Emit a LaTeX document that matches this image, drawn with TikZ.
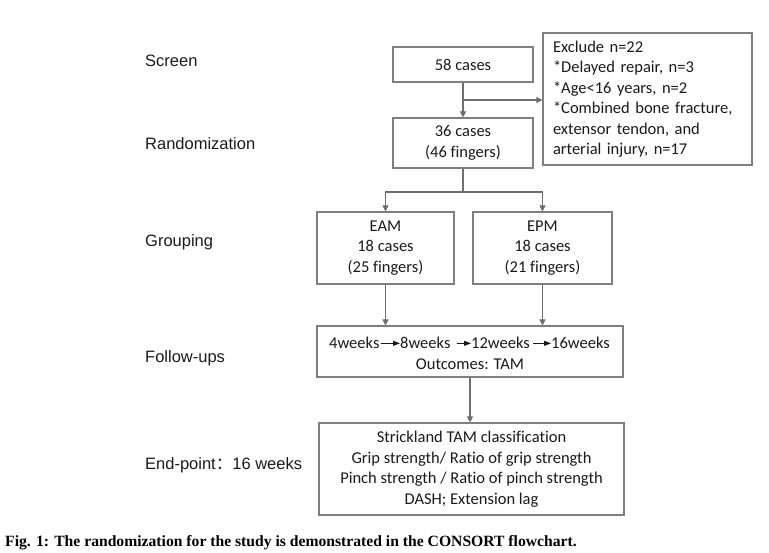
\documentclass[tikz,border=0pt]{standalone}
\usepackage{fontspec}
\setmainfont{Carlito}[Ligatures={NoCommon}]
\newfontfamily\labfont{Liberation Sans}
\newfontfamily\capfont{Liberation Serif}
\newfontfamily\cjk{Noto Sans CJK SC}
\usetikzlibrary{arrows.meta}
\definecolor{boxgray}{HTML}{7F7F7F}
\definecolor{linegray}{HTML}{6E6E6E}
\definecolor{txt}{HTML}{1A1A1A}
\begin{document}
\begin{tikzpicture}[x=1pt,y=-1pt,
  box/.style={draw=boxgray, line width=1.1pt, inner sep=0pt, align=center, font=\fontsize{16.5}{20.5}\selectfont, text=txt},
  lab/.style={anchor=base west, inner sep=0pt, font=\labfont\fontsize{16.5}{20}\selectfont, text=txt},
  arr/.style={draw=linegray, line width=1.1pt, -{Triangle[width=6pt,length=6pt]}},
  ln/.style={draw=linegray, line width=1.1pt},
  wk/.style={inner sep=0pt, anchor=base west, font=\fontsize{16.5}{20}\selectfont, text=txt},
  sarr/.style={draw=txt, line width=1pt, -{Triangle[width=5pt,length=7pt]}}
]
\useasboundingbox (0,0) rectangle (769,553);
% left labels
\node[lab] (l1) at (145,67) {Screen};
\node[lab] (l2) at (145,150) {Randomization};
\node[lab] (l3) at (145,247) {Grouping};
\node[lab] (l4) at (145,363) {Follow-ups};
\node[lab] (l5) at (145,469) {End-point{\cjk ：}16 weeks};
% boxes
\node[box, minimum width=140pt, minimum height=35pt] (s58) at (463,64.5) {58 cases};
\node[box, minimum width=209pt, minimum height=132pt, align=left, text width=189pt] (excl) at (647.5,99)
  {Exclude n=22\\{}*Delayed repair, n=3\\{}*Age<16 years, n=2\\{}*Combined bone fracture,\\extensor tendon, and\\arterial injury, n=17};
\node[box, minimum width=140pt, minimum height=50pt] (c36) at (463,143) {36 cases\\(46 fingers)};
\node[box, minimum width=137pt, minimum height=72pt] (eam) at (385.5,248) {EAM\\18 cases\\(25 fingers)};
\node[box, minimum width=139pt, minimum height=72pt] (epm) at (542.5,248) {EPM\\18 cases\\(21 fingers)};
\node[box, minimum width=306pt, minimum height=51pt] (fu) at (470,351.5) {};
\node[box, minimum width=305pt, minimum height=92pt] (ep) at (471.5,469)
  {Strickland TAM classification\\Grip strength/ Ratio of grip strength\\Pinch strength / Ratio of pinch strength\\DASH; Extension lag};
% follow-up contents
\node[wk] (w4) at (329,349) {4weeks};
\node[wk] (w8) at (400,349) {8weeks};
\node[wk] (w12) at (471,349) {12weeks};
\node[wk] (w16) at (551,349) {16weeks};
\node[inner sep=0pt, font=\fontsize{16.5}{20}\selectfont, text=txt] (out) at (470,364) {Outcomes: TAM};
\draw[sarr] ([xshift=1pt]w4.east) -- (w8.west);
\draw[sarr] ([xshift=6pt]w8.east) -- (w12.west);
\draw[sarr] ([xshift=3pt]w12.east) -- (w16.west);
% connectors
\coordinate (b1) at (463,100);
\draw[arr] (s58.south) -- (c36.north);
\draw[arr] (b1) -- (b1 -| excl.west);
\coordinate (b2) at (463,192);
\draw[ln] (c36.south) -- (b2);
\draw[arr] (b2) -| (eam.north);
\draw[arr] (b2) -| (epm.north);
\draw[arr] (eam.south) -- (eam.south |- fu.north);
\draw[arr] (epm.south) -- (epm.south |- fu.north);
\draw[arr] (fu.south) -- (fu.south |- ep.north);
% caption
\node[anchor=base west, inner sep=0pt, font=\capfont\bfseries\fontsize{15.65}{18}\selectfont, text=black] (cap) at (5,546)
  {Fig. 1: The randomization for the study is demonstrated in the CONSORT flowchart.};
\end{tikzpicture}
\end{document}
